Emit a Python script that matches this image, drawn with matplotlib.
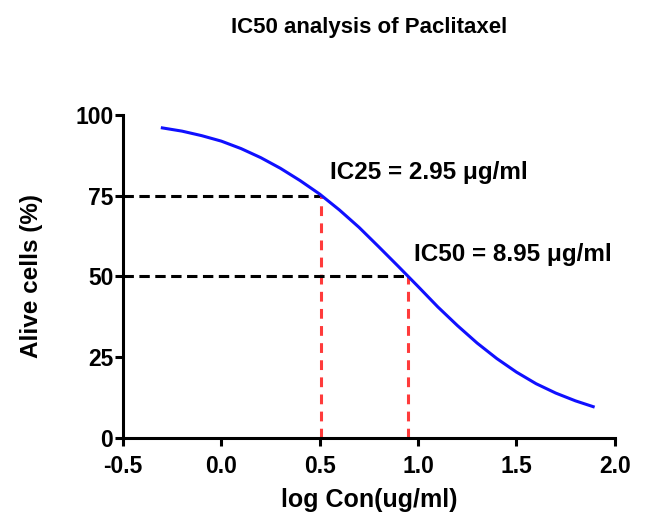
import matplotlib.pyplot as plt

plt.rcParams['font.family'] = ['Liberation Sans', 'DejaVu Sans']
plt.rcParams['font.weight'] = 'bold'

# curve (log concentration vs % alive)
log_con = [-0.30, -0.20, -0.10, 0.00, 0.10, 0.20, 0.30, 0.40, 0.50, 0.60, 0.70, 0.80,
           0.90, 1.00, 1.10, 1.20, 1.30, 1.40, 1.50, 1.60, 1.70, 1.80, 1.89]
alive = [96.0, 95.0, 93.6, 91.9, 89.6, 86.8, 83.5, 79.7, 75.5, 70.6, 65.2, 59.2,
         53.1, 46.9, 40.6, 34.8, 29.4, 24.6, 20.4, 16.8, 13.9, 11.5, 9.7]

ic_x = [0.505, 0.95]
ic_y = [75, 50]
ic_labels = ["IC25 = 2.95 μg/ml", "IC50 = 8.95 μg/ml"]
label_pos = [(0.553, 80.1), (0.981, 54.7)]

x_ticks = [-0.5, 0.0, 0.5, 1.0, 1.5, 2.0]
y_ticks = [0, 25, 50, 75, 100]

fig = plt.figure(figsize=(6.48, 5.17), dpi=100)
ax = fig.add_axes([0.1898, 0.1528, 0.759, 0.6248])

ax.plot(log_con, alive, color='#1010ff', lw=2.2, zorder=3)

for xv, yv in zip(ic_x, ic_y):
    ax.plot([-0.5, xv], [yv, yv], color='black', lw=2.2, ls=(0, (3.4, 1.8)), zorder=2)
    ax.plot([xv, xv], [0, yv], color='#ff3b3b', lw=2.2, ls=(0, (3.2, 2.4)), zorder=2)

for txt, (tx, ty) in zip(ic_labels, label_pos):
    ax.text(tx, ty, txt, fontsize=17.5, fontweight='bold', va='baseline', ha='left')

ax.set_xlim(-0.5, 2.0)
ax.set_ylim(0, 100)
ax.set_xticks(x_ticks)
ax.set_xticklabels([f"{v:.1f}" for v in x_ticks])
ax.set_yticks(y_ticks)

for s in ['top', 'right']:
    ax.spines[s].set_visible(False)
for s in ['left', 'bottom']:
    ax.spines[s].set_linewidth(2.2)
ax.tick_params(width=2.2, length=6, labelsize=16.5)
ax.tick_params(axis='x', pad=6)
ax.tick_params(axis='y', pad=1)
for lab in ax.get_xticklabels() + ax.get_yticklabels():
    lab.set_fontweight('bold')

ax.set_xlabel("log Con(ug/ml)", fontsize=18, fontweight='bold', va='center')
ax.xaxis.set_label_coords(0.5, -0.193)
ax.set_ylabel("Alive cells (%)", fontsize=17.5, fontweight='bold', va='center')
ax.yaxis.set_label_coords(-0.187, 0.5)

fig.text(0.569, 0.947, "IC50 analysis of Paclitaxel", fontsize=16,
         fontweight='bold', ha='center', va='center')

fig.savefig("out.png", dpi=100)
